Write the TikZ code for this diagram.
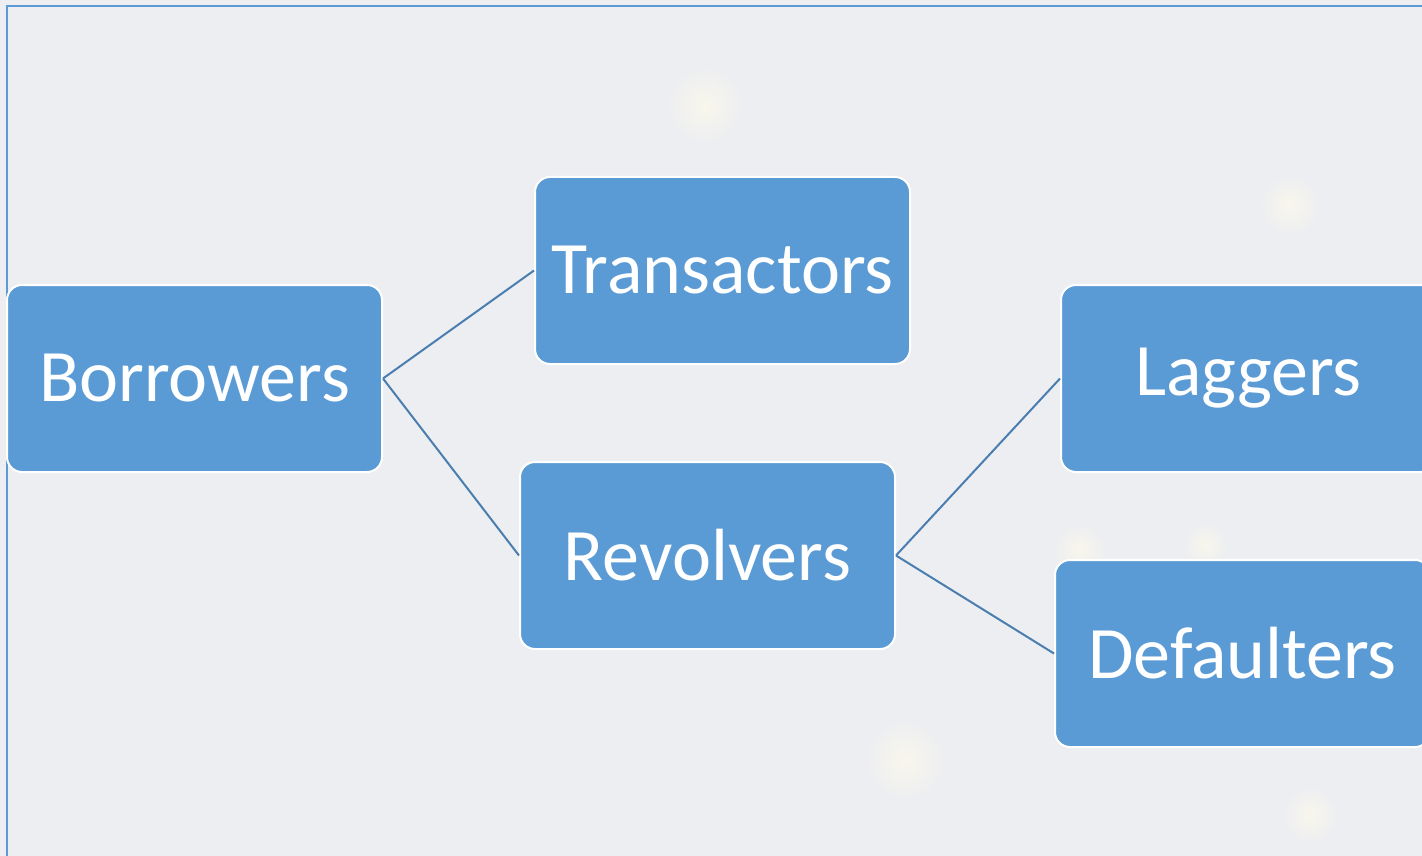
\documentclass[tikz,border=0pt]{standalone}
\usepackage{fontspec}
\setmainfont{Carlito}
\definecolor{bg}{HTML}{EDEEF1}
\definecolor{boxfill}{HTML}{5B9BD5}
\definecolor{linec}{HTML}{4A7EB0}
\definecolor{glow}{HTML}{F8F6EC}
\tikzset{
  catbox/.style={draw=white, line width=2pt, fill=boxfill, rounded corners=15pt,
    minimum width=375pt, minimum height=187pt, inner sep=0pt,
    text=white, font=\fontsize{74}{80}\selectfont},
  conn/.style={draw=linec, line width=2pt}
}
\begin{document}
\begin{tikzpicture}[x=1pt,y=-1pt]
\useasboundingbox (0,0) rectangle (1422,856);
\clip (0,0) rectangle (1422,856);
\fill[bg] (0,0) rectangle (1422,856);
% faint background glows
\foreach \gx/\gy/\gr in {705/105/38, 1290/205/30, 1310/815/28, 905/760/40, 1080/550/26, 1205/545/22}
  \shade[inner color=glow, outer color=bg] (\gx,\gy) circle (\gr);
% frame
\draw[boxfill, line width=2pt] (7,860) -- (7,6) -- (1430,6);
% nodes
\node[catbox] (bor) at (194.5,378.5) {Borrowers};
\node[catbox] (tra) at (722.5,270.5) {Transactors};
\node[catbox] (rev) at (707.5,555.5) {Revolvers};
\node[catbox] (lag) at (1248.5,378.5) {Laggers};
\node[catbox] (def) at (1242.5,653.5) {Defaulters};
% connectors
\draw[conn] (bor.east) -- (tra.west);
\draw[conn] (bor.east) -- (rev.west);
\draw[conn] (rev.east) -- (lag.west);
\draw[conn] (rev.east) -- (def.west);
\end{tikzpicture}
\end{document}
